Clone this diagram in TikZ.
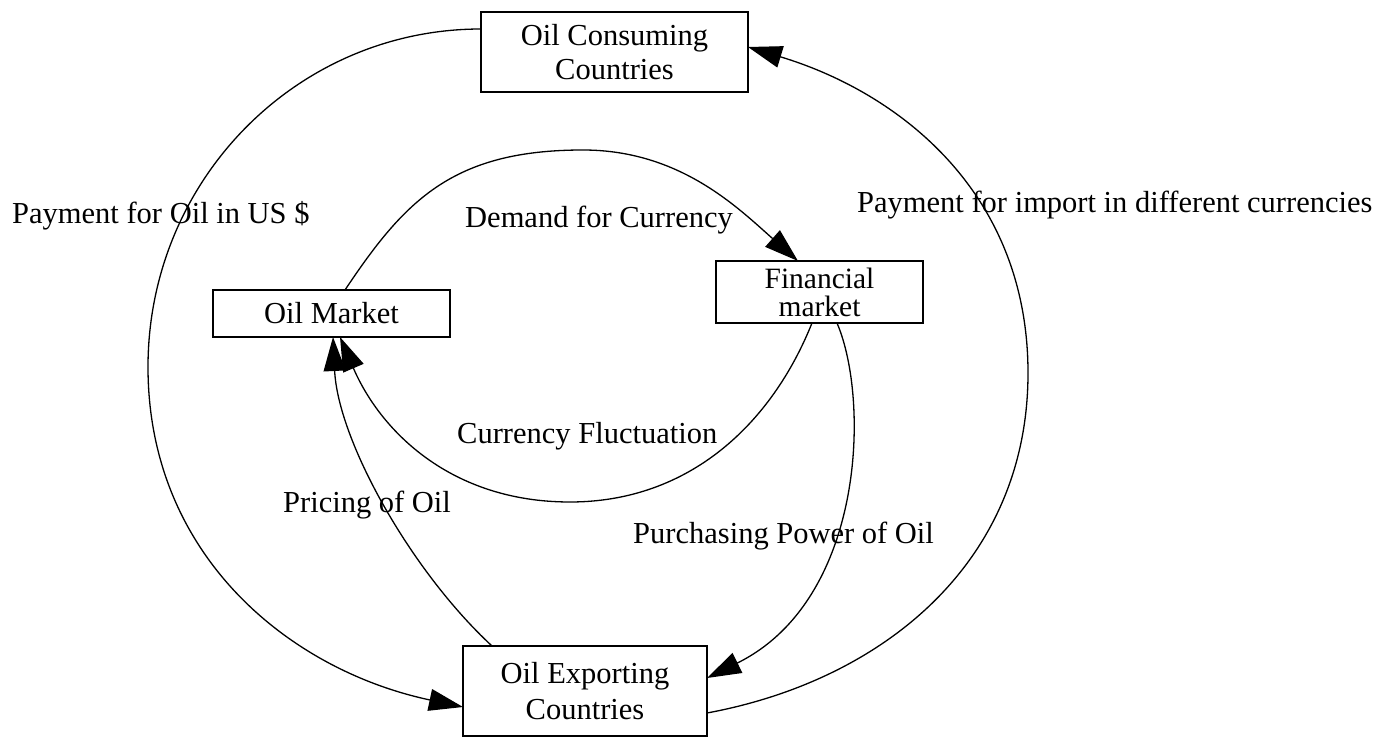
\documentclass[tikz,border=0pt]{standalone}
\usepackage{fontspec}
\setmainfont{Liberation Serif}
\usetikzlibrary{arrows.meta}
\begin{document}
\begin{tikzpicture}[x=1pt,y=-1pt,
  box/.style={draw=black, line width=1.6pt, rectangle, inner sep=0pt, outer sep=0pt, align=center, font=\fontsize{30.5}{34}\selectfont},
  lbl/.style={inner sep=0pt, anchor=base west, font=\fontsize{30.5}{36}\selectfont},
  conn/.style={draw=black, line width=1.3pt, -{Triangle[length=34pt,width=22pt]}}
]
\useasboundingbox (0,0) rectangle (1397,738);
\fill[white] (0,0) rectangle (1397,738);

\node[box, minimum width=267pt, minimum height=80pt] (cons) at (614.5,52) {Oil Consuming\\Countries};
\node[box, minimum width=237pt, minimum height=47pt] (mkt) at (331.5,313.5) {Oil Market};
\node[box, minimum width=207pt, minimum height=62pt, font=\fontsize{29.5}{28}\selectfont] (fin) at (819.5,292) {Financial\\market};
\node[box, minimum width=244pt, minimum height=90pt, font=\fontsize{30.5}{36}\selectfont] (exp) at (585,691) {Oil Exporting\\Countries};

% outer left arc
\draw[conn] ([yshift=23pt]cons.west) .. controls (297,29) and (148,180) .. (148,367) .. controls (148,555) and (289,670) .. ([yshift=-16pt]exp.west);
% outer right arc
\draw[conn] ([yshift=-22pt]exp.east) .. controls (885,680) and (1028,561) .. (1028,373) .. controls (1028,193) and (900,93) .. ([yshift=5pt]cons.east);
% demand for currency
\draw[conn] ([xshift=13.5pt]mkt.north) .. controls (405,200) and (453,150) .. (583,150) .. controls (680,150) and (738,208) .. ([xshift=-21.5pt]fin.north);
% currency fluctuation
\draw[conn] ([xshift=-7.5pt]fin.south) .. controls (772,423) and (690,502) .. (570,502) .. controls (450,502) and (380,430) .. ([xshift=8.5pt]mkt.south);
% pricing of oil
\draw[conn] ([xshift=-93pt]exp.north) .. controls (410,570) and (338,440) .. ([xshift=1.5pt]mkt.south);
% purchasing power
\draw[conn] ([xshift=17.5pt]fin.south) .. controls (870,400) and (865,600) .. ([yshift=13pt]exp.east);

\node[lbl] (l1) at (12,223) {Payment for Oil in US \$};
\node[lbl] (l2) at (857,213) {Payment for import in different currencies};
\node[lbl] (l3) at (465,227) {Demand for Currency};
\node[lbl] (l4) at (457,443) {Currency Fluctuation};
\node[lbl] (l5) at (633,543) {Purchasing Power of Oil};
\node[lbl] (l6) at (283,512) {Pricing of Oil};
\end{tikzpicture}
\end{document}
